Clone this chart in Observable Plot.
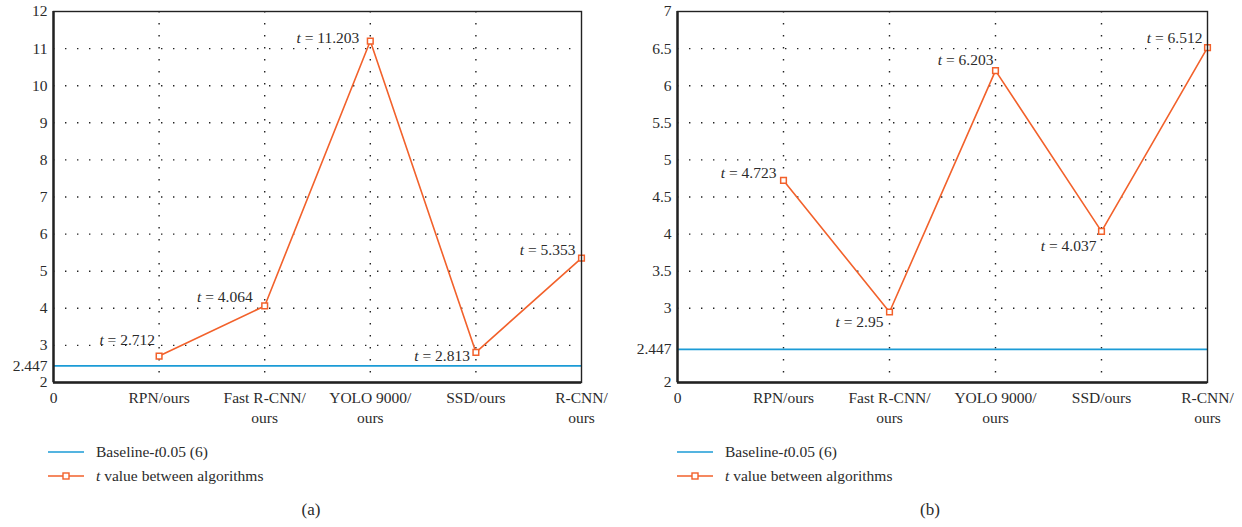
<!DOCTYPE html>
<html>
<head>
<meta charset="utf-8">
<script src="https://cdn.jsdelivr.net/npm/d3@7"></script>
<script src="https://cdn.jsdelivr.net/npm/@observablehq/plot@0.6"></script>
<style>
  body { margin: 0; background: #fff; font-family: "Liberation Serif", serif; color: #2b2b2b; }
  #wrap { position: relative; width: 1242px; height: 527px; overflow: hidden; }
  .panel { position: absolute; top: 0; }
  .panel svg { overflow: visible; }
  .legend { position: absolute; font-size: 15.5px; color: #2b2b2b; }
  .legend .row { display: flex; align-items: center; height: 24px; }
  .legend .row svg { margin-right: 12px; }
  .caption { position: absolute; top: 500px; font-size: 17px; color: #2b2b2b; width: 40px; text-align: center; }
</style>
</head>
<body>
<div id="wrap"></div>
<script>
// ---- data ----
const categories = ["RPN/ours", "Fast R-CNN/\nours", "YOLO 9000/\nours", "SSD/ours", "R-CNN/\nours"];
const tValuesA = [2.712, 4.064, 11.203, 2.813, 5.353];
const tValuesB = [4.723, 2.95, 6.203, 4.037, 6.512];
const baselineValue = 2.447;
const yTicksA = [2, 2.447, 3, 4, 5, 6, 7, 8, 9, 10, 11, 12];
const yTicksB = [2, 2.447, 3, 3.5, 4, 4.5, 5, 5.5, 6, 6.5, 7];
const gridYA = [3, 4, 5, 6, 7, 8, 9, 10, 11];
const gridYB = [3, 3.5, 4, 4.5, 5, 5.5, 6, 6.5];
const legendLabels = ["Baseline-<i>t</i>0.05 (6)", "<i>t</i> value between algorithms"];

// ---- styles ----
const ORANGE = "#f2612b";
const BLUE = "#1b9bd6";
const INK = "#2b2b2b";
const FONT = "'Liberation Serif', serif";
const offsetsA = [[-4, -16], [-12, -9], [-11, -3], [-6, 4], [-6, -8]];
const offsetsB = [[-7, -7], [-6, 10], [-2, -11], [-5, 15], [-5, -10]];

function panel(values, yDomain, yTicks, gridY, offsets, opts) {
  const data = values.map((v, i) => ({x: i + 1, y: v, i}));
  const labelMarks = data.map((d, k) => Plot.text([d], {
    x: "x", y: "y", text: dd => "t = " + dd.y,
    textAnchor: "end", dx: offsets[k][0], dy: offsets[k][1],
    fill: INK, fontSize: 15.5, fontFamily: FONT, className: "tlabel"
  }));
  const svg = Plot.plot({
    width: 621, height: 440,
    marginLeft: opts.ml, marginRight: opts.mr, marginTop: 11, marginBottom: 58,
    style: {fontFamily: FONT, fontSize: "15.5px", color: INK, background: "transparent", overflow: "visible"},
    x: {domain: [0, 5]},
    y: {domain: yDomain},
    marks: [
      Plot.ruleY(gridY, {stroke: "#222", strokeWidth: 1.4, strokeDasharray: "1.4,10.6"}),
      Plot.ruleX([1, 2, 3, 4], {stroke: "#222", strokeWidth: 1.4, strokeDasharray: "1.4,10.6"}),
      Plot.ruleY([baselineValue], {stroke: BLUE, strokeWidth: 1.6}),
      Plot.line(data, {x: "x", y: "y", stroke: ORANGE, strokeWidth: 1.6}),
      Plot.dot(data, {x: "x", y: "y", symbol: "square", r: 3.2, fill: "white", stroke: ORANGE, strokeWidth: 1.5}),
      ...labelMarks,
      Plot.frame({stroke: "#222", strokeWidth: 1.4}),
      Plot.ruleX([0], {stroke: "#222", strokeWidth: 2.4}),
      Plot.ruleY([yDomain[0]], {stroke: "#222", strokeWidth: 2.4}),
      Plot.axisY({ticks: yTicks, tickFormat: d => String(d), tickSize: 0, tickPadding: 6, fontSize: 15.5, fontFamily: FONT, fill: INK, label: null}),
      Plot.axisX({ticks: [0, 1, 2, 3, 4, 5], tickFormat: d => d === 0 ? "0" : categories[d - 1], tickSize: 0, tickPadding: 6, lineHeight: 1.3, fontSize: 15.5, fontFamily: FONT, fill: INK, label: null})
    ]
  });
  // italic "t" in value labels
  d3.select(svg).selectAll(".tlabel text").each(function() {
    const s = this.textContent;
    const el = d3.select(this);
    el.text(null);
    el.append("tspan").attr("font-style", "italic").text("t");
    el.append("tspan").text(s.slice(1));
  });
  return svg;
}

const wrap = document.getElementById("wrap");

function addPanel(left, svg, legendLeft, captionText, captionLeft) {
  const div = document.createElement("div");
  div.className = "panel";
  div.style.left = left + "px";
  div.appendChild(svg);
  wrap.appendChild(div);

  const lg = document.createElement("div");
  lg.className = "legend";
  lg.style.left = legendLeft + "px";
  lg.style.top = "440px";
  lg.innerHTML =
    `<div class="row"><svg width="36" height="10"><line x1="0" x2="36" y1="5" y2="5" stroke="${BLUE}" stroke-width="1.6"/></svg><span>${legendLabels[0]}</span></div>` +
    `<div class="row"><svg width="36" height="10"><line x1="0" x2="36" y1="5" y2="5" stroke="${ORANGE}" stroke-width="1.6"/><rect x="15" y="2" width="6" height="6" fill="white" stroke="${ORANGE}" stroke-width="1.4"/></svg><span>${legendLabels[1]}</span></div>`;
  wrap.appendChild(lg);

  const cap = document.createElement("div");
  cap.className = "caption";
  cap.style.left = (captionLeft - 20) + "px";
  cap.textContent = captionText;
  wrap.appendChild(cap);
}

addPanel(0, panel(tValuesA, [2, 12], yTicksA, gridYA, offsetsA, {ml: 53, mr: 40}), 48, "(a)", 311);
addPanel(621, panel(tValuesB, [2, 7], yTicksB, gridYB, offsetsB, {ml: 56, mr: 35}), 677, "(b)", 930);
</script>
</body>
</html>
